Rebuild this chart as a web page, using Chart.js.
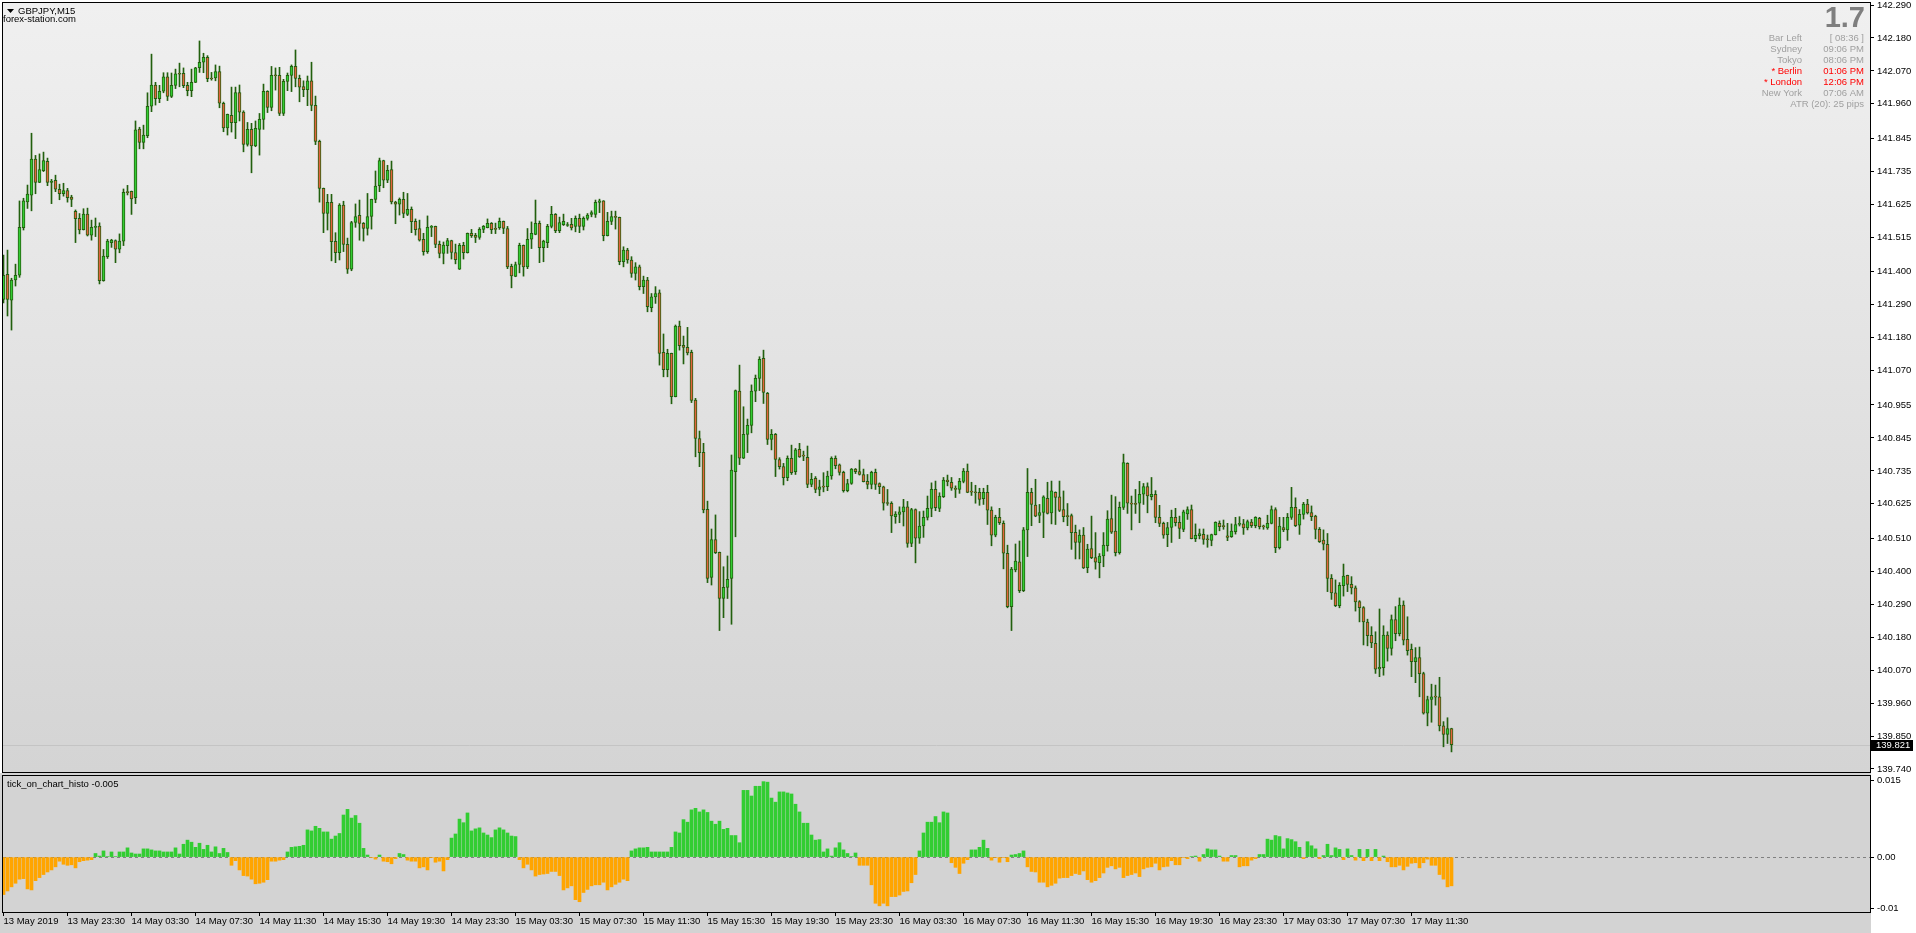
<!DOCTYPE html>
<html>
<head>
<meta charset="utf-8">
<title>GBPJPY,M15</title>
<script src="https://cdn.jsdelivr.net/npm/chart.js@4.4.1/dist/chart.umd.min.js"></script>
<style>
  html, body { margin: 0; padding: 0; background: #fff; overflow: hidden; }
  #wrap { position: relative; width: 1916px; height: 933px; }
  #priceChart { position: absolute; left: 0; top: 0; }
  #histoChart { position: absolute; left: 0; top: 773px; }
</style>
</head>
<body>
<div id="wrap">
  <canvas id="priceChart" width="1916" height="774"></canvas>
  <canvas id="histoChart" width="1916" height="160"></canvas>
</div>
<script>
// M15 bars, 13 May 19:30 .. 17 May 14:00
const opens = [
141.307,141.391,141.305,141.372,141.388,141.547,141.633,141.655,141.776,141.698,
141.737,141.768,141.698,141.705,141.675,141.660,141.671,141.649,141.601,141.578,
141.540,141.592,141.522,141.548,141.552,141.370,141.450,141.497,141.504,141.475,
141.502,141.665,141.668,141.647,141.876,141.831,141.854,141.952,142.023,141.977,
142.002,142.050,141.985,142.022,142.060,142.062,142.022,142.004,142.032,142.081,
142.099,142.115,142.046,142.047,142.068,141.962,141.880,141.922,141.897,141.998,
141.933,141.825,141.875,141.820,141.875,141.908,142.002,141.948,142.055,142.055,
141.928,142.035,142.055,142.085,142.045,142.018,142.007,142.037,141.955,141.835,
141.678,141.594,141.631,141.501,141.463,141.622,141.491,141.408,141.564,141.588,
141.561,141.544,141.584,141.641,141.687,141.771,141.705,141.741,141.632,141.625,
141.641,141.591,141.608,141.568,141.544,141.508,141.467,141.548,141.551,141.491,
141.461,141.487,141.504,141.464,141.408,141.488,141.463,141.528,141.521,141.514,
141.541,141.547,141.561,141.542,141.547,141.568,141.544,141.418,141.384,141.424,
141.488,141.416,141.508,141.524,141.561,141.480,141.497,141.551,141.591,141.537,
141.557,141.554,141.558,141.551,141.578,141.551,141.578,141.591,141.591,141.631,
141.636,141.520,141.568,141.584,141.581,141.433,141.472,141.439,141.394,141.416,
141.350,141.372,141.280,141.316,141.329,141.131,141.073,141.127,140.983,141.218,
141.154,141.147,141.131,140.971,140.843,140.797,140.607,140.379,140.506,140.463,
140.309,140.346,140.376,140.732,141.001,140.777,140.857,140.887,141.001,141.044,
141.111,140.994,140.840,140.857,140.773,140.749,140.712,140.777,140.732,140.807,
140.785,140.780,140.690,140.710,140.673,140.682,140.682,140.718,140.777,140.755,
140.730,140.669,140.693,140.741,140.733,140.723,140.700,140.690,140.730,140.693,
140.682,140.627,140.627,140.582,140.590,140.598,140.615,140.493,140.606,140.510,
140.551,140.580,140.610,140.673,140.610,140.649,140.704,140.697,140.677,140.673,
140.700,140.734,140.665,140.663,140.663,140.642,140.663,140.604,140.520,140.580,
140.560,140.460,140.282,140.404,140.431,140.335,140.538,140.663,140.621,140.586,
140.596,140.643,140.595,140.663,140.648,140.606,140.586,140.586,140.530,140.496,
140.521,140.412,140.476,140.446,140.429,140.451,140.485,140.576,140.534,140.462,
140.613,140.760,140.625,140.627,140.627,140.657,140.683,140.649,140.657,140.580,
140.560,140.522,140.546,140.580,140.563,140.540,140.591,140.606,140.509,140.519,
140.523,140.506,140.503,140.522,140.560,140.550,140.518,140.515,140.532,140.556,
140.558,140.545,140.564,140.552,140.577,140.549,140.545,140.560,140.606,140.479,
140.546,140.538,140.580,140.613,140.554,140.590,140.624,140.596,140.584,140.540,
140.504,140.490,140.376,140.328,140.285,140.352,140.386,140.356,140.345,140.299,
140.279,140.230,140.186,140.159,140.074,140.078,140.187,140.142,140.239,140.192,
140.287,140.173,140.139,140.098,140.112,140.058,139.926,139.972,139.981,139.981,
139.884,139.855,139.875
];
const highs = [
141.455,141.472,141.378,141.425,141.636,141.645,141.689,141.862,141.788,141.793,
141.799,141.779,141.708,141.722,141.692,141.695,141.678,141.655,141.606,141.594,
141.610,141.612,141.572,141.579,141.563,141.474,141.508,141.508,141.506,141.526,
141.676,141.688,141.669,141.903,141.882,141.889,141.997,142.126,142.032,142.022,
142.064,142.064,142.063,142.076,142.096,142.080,142.032,142.076,142.082,142.170,
142.129,142.121,142.065,142.090,142.086,141.966,141.926,142.016,142.016,142.023,
141.937,141.898,141.895,141.903,141.928,142.026,142.004,142.085,142.080,142.082,
142.042,142.063,142.090,142.140,142.056,142.037,142.053,142.099,141.986,141.839,
141.679,141.658,141.658,141.530,141.627,141.635,141.512,141.568,141.626,141.639,
141.564,141.661,141.642,141.736,141.779,141.772,141.755,141.769,141.635,141.646,
141.665,141.661,141.616,141.576,141.572,141.528,141.586,141.554,141.552,141.502,
141.499,141.511,141.505,141.492,141.494,141.498,141.529,141.541,141.528,141.547,
141.554,141.576,141.564,141.562,141.579,141.569,141.551,141.425,141.432,141.495,
141.489,141.544,141.566,141.639,141.569,141.505,141.558,141.618,141.594,141.582,
141.592,141.564,141.578,141.586,141.592,141.583,141.594,141.603,141.639,141.642,
141.637,141.598,141.602,141.602,141.582,141.483,141.478,141.450,141.430,141.422,
141.385,141.381,141.327,141.350,141.339,141.192,141.141,141.128,141.222,141.235,
141.185,141.214,141.138,140.977,140.868,140.827,140.634,140.541,140.588,140.464,
140.415,140.451,140.788,141.005,141.088,140.949,140.908,141.022,141.055,141.116,
141.138,140.997,140.873,140.860,140.779,140.760,140.785,140.821,140.810,140.827,
140.801,140.818,140.727,140.716,140.704,140.729,140.734,140.782,140.785,140.758,
140.734,140.707,140.743,140.743,140.771,140.741,140.723,140.734,140.741,140.695,
140.684,140.673,140.632,140.599,140.615,140.640,140.633,140.610,140.608,140.599,
140.601,140.651,140.695,140.701,140.662,140.713,140.721,140.713,140.685,140.710,
140.743,140.758,140.697,140.687,140.677,140.677,140.687,140.615,140.587,140.610,
140.568,140.487,140.413,140.491,140.501,140.546,140.743,140.677,140.707,140.623,
140.652,140.697,140.701,140.665,140.701,140.668,140.626,140.591,140.554,140.538,
140.546,140.490,140.584,140.529,140.459,140.529,140.602,140.654,140.649,140.631,
140.791,140.762,140.651,140.673,140.700,140.693,140.695,140.713,140.669,140.620,
140.564,140.563,140.604,140.610,140.584,140.604,140.615,140.621,140.558,140.541,
140.541,140.521,140.524,140.565,140.568,140.571,140.560,140.558,140.580,140.582,
140.573,140.571,140.573,140.582,140.580,140.554,140.587,140.618,140.612,140.580,
140.580,140.593,140.680,140.645,140.606,140.630,140.640,140.618,140.587,140.546,
140.538,140.526,140.389,140.371,140.362,140.424,140.387,140.382,140.351,140.302,
140.282,140.240,140.215,140.198,140.274,140.218,140.198,140.254,140.282,140.311,
140.301,140.248,140.157,140.145,140.147,140.063,139.983,140.023,140.020,140.046,
139.898,139.911,139.876
];
const lows = [
141.296,141.252,141.205,141.352,141.381,141.539,141.611,141.603,141.660,141.697,
141.734,141.687,141.627,141.667,141.640,141.652,141.632,141.617,141.497,141.526,
141.539,141.519,141.505,141.517,141.359,141.368,141.444,141.481,141.430,141.463,
141.487,141.656,141.591,141.627,141.810,141.810,141.847,141.934,141.956,141.964,
141.997,141.971,141.981,142.011,142.017,142.014,141.987,141.984,142.031,142.065,
142.064,142.034,142.039,142.037,141.947,141.867,141.856,141.866,141.844,141.903,
141.800,141.819,141.730,141.817,141.789,141.875,141.931,141.937,142.006,141.921,
141.921,142.004,142.001,142.017,141.967,141.984,141.954,141.937,141.824,141.632,
141.530,141.539,141.436,141.430,141.439,141.467,141.394,141.403,141.548,141.505,
141.502,141.522,141.542,141.630,141.667,141.680,141.697,141.626,141.560,141.589,
141.580,141.587,141.530,141.522,141.502,141.455,141.461,141.517,141.480,141.446,
141.426,141.461,141.442,141.426,141.407,141.442,141.462,141.514,141.497,141.508,
141.530,141.546,141.527,141.527,141.541,141.527,141.410,141.346,141.383,141.396,
141.385,141.410,141.477,141.523,141.430,141.433,141.480,141.546,141.530,141.530,
141.554,141.551,141.539,141.533,141.530,141.539,141.572,141.583,141.581,141.597,
141.503,141.519,141.557,141.542,141.423,141.416,141.428,141.381,141.372,141.339,
141.327,141.266,141.266,141.294,141.088,141.049,141.049,140.959,140.982,141.138,
141.092,141.122,140.963,140.782,140.749,140.595,140.362,140.354,140.459,140.202,
140.245,140.309,140.223,140.515,140.756,140.776,140.796,140.862,140.966,141.003,
140.960,140.823,140.805,140.716,140.741,140.688,140.702,140.723,140.723,140.780,
140.769,140.679,140.682,140.662,140.652,140.665,140.669,140.707,140.742,140.721,
140.664,140.665,140.690,140.726,140.721,140.698,140.675,140.675,140.673,140.659,
140.604,140.620,140.529,140.560,140.562,140.551,140.480,140.482,140.428,140.493,
140.513,140.571,140.582,140.602,140.599,140.646,140.685,140.670,140.646,140.660,
140.695,140.662,140.653,140.627,140.620,140.623,140.556,140.485,140.515,140.556,
140.408,140.278,140.202,140.398,140.329,140.332,140.449,140.552,140.582,140.562,
140.512,140.591,140.558,140.556,140.599,140.565,140.552,140.473,140.441,140.441,
140.409,140.395,140.442,140.407,140.378,140.415,140.467,140.526,140.451,140.457,
140.606,140.593,140.538,140.593,140.562,140.623,140.595,140.638,140.562,140.549,
140.510,140.482,140.496,140.551,140.509,140.532,140.573,140.508,140.499,140.508,
140.490,140.480,140.485,140.521,140.535,140.540,140.502,140.513,140.524,140.551,
140.523,140.538,140.546,140.545,140.541,140.540,140.540,140.558,140.462,140.474,
140.532,140.503,140.573,140.549,140.523,140.574,140.591,140.569,140.508,140.496,
140.471,140.332,140.306,140.282,140.278,140.317,140.332,140.324,140.267,140.231,
140.154,140.151,140.145,140.059,140.048,140.053,140.100,140.120,140.168,140.184,
140.154,140.120,140.048,140.028,139.981,139.923,139.884,139.896,139.953,139.867,
139.814,139.825,139.797
];
const closes = [
141.388,141.307,141.372,141.388,141.548,141.636,141.659,141.776,141.698,141.741,
141.771,141.698,141.702,141.675,141.660,141.671,141.647,141.641,141.577,141.539,
141.592,141.522,141.548,141.548,141.370,141.452,141.502,141.505,141.475,141.502,
141.665,141.664,141.643,141.873,141.831,141.856,141.952,142.023,141.977,142.002,
142.050,141.985,142.022,142.060,142.059,142.021,142.004,142.032,142.080,142.099,
142.115,142.044,142.043,142.068,141.962,141.880,141.925,141.897,141.998,141.932,
141.825,141.875,141.820,141.878,141.908,142.002,141.948,142.055,142.054,141.928,
142.035,142.055,142.085,142.045,142.016,142.007,142.037,141.955,141.835,141.678,
141.594,141.631,141.500,141.463,141.622,141.491,141.408,141.564,141.584,141.561,
141.544,141.584,141.641,141.686,141.771,141.705,141.738,141.633,141.625,141.641,
141.594,141.608,141.567,141.540,141.505,141.467,141.548,141.551,141.491,141.461,
141.489,141.504,141.464,141.440,141.488,141.463,141.528,141.520,141.514,141.541,
141.551,141.561,141.540,141.541,141.568,141.544,141.416,141.386,141.424,141.488,
141.416,141.508,141.528,141.561,141.480,141.502,141.551,141.591,141.537,141.564,
141.568,141.555,141.546,141.578,141.551,141.578,141.589,141.597,141.631,141.636,
141.520,141.568,141.584,141.581,141.433,141.472,141.439,141.394,141.416,141.350,
141.372,141.283,141.316,141.327,141.127,141.073,141.127,140.983,141.218,141.153,
141.147,141.129,140.970,140.843,140.796,140.605,140.376,140.506,140.462,140.309,
140.346,140.373,140.738,141.003,140.777,140.857,140.887,141.001,141.044,141.107,
140.997,140.840,140.857,140.773,140.749,140.712,140.777,140.729,140.805,140.782,
140.784,140.690,140.707,140.673,140.682,140.681,140.718,140.777,140.752,140.730,
140.669,140.693,140.741,140.732,140.723,140.699,140.690,140.730,140.690,140.682,
140.627,140.626,140.585,140.591,140.598,140.615,140.493,140.606,140.510,140.551,
140.580,140.610,140.673,140.612,140.651,140.704,140.699,140.677,140.673,140.700,
140.734,140.663,140.664,140.662,140.640,140.663,140.604,140.520,140.580,140.562,
140.460,140.282,140.407,140.434,140.335,140.538,140.663,140.623,140.584,140.596,
140.648,140.593,140.668,140.646,140.603,140.582,140.582,140.529,140.496,140.521,
140.411,140.474,140.445,140.430,140.451,140.487,140.574,140.530,140.462,140.613,
140.763,140.627,140.624,140.623,140.657,140.683,140.651,140.657,140.580,140.560,
140.520,140.546,140.580,140.562,140.543,140.598,140.606,140.509,140.520,140.526,
140.506,140.505,140.522,140.563,140.549,140.549,140.513,140.534,140.556,140.560,
140.545,140.566,140.552,140.580,140.549,140.548,140.560,140.606,140.479,140.551,
140.538,140.580,140.613,140.552,140.590,140.624,140.595,140.582,140.540,140.499,
140.490,140.376,140.328,140.285,140.353,140.384,140.356,140.344,140.298,140.278,
140.231,140.185,140.161,140.073,140.079,140.187,140.142,140.239,140.192,140.287,
140.170,140.135,140.098,140.112,140.058,139.926,139.972,139.981,139.980,139.884,
139.855,139.875,139.821
];

// tick_on_chart_histo, one value per bar
const histo = [
-0.0073,-0.0066,-0.0058,-0.0051,-0.0043,-0.0042,-0.0062,-0.0064,-0.0046,-0.0040,
-0.0034,-0.0029,-0.0025,-0.0019,-0.0008,-0.0014,-0.0016,-0.0015,-0.0021,-0.0009,
-0.0007,-0.0006,-0.0005,0.0007,0.0002,0.0012,0.0001,0.0010,0.0001,0.0010,
0.0010,0.0018,0.0008,0.0006,0.0006,0.0016,0.0016,0.0014,0.0012,0.0012,
0.0010,0.0010,0.0010,0.0018,0.0006,0.0025,0.0033,0.0029,0.0019,0.0027,
0.0015,0.0023,0.0010,0.0020,0.0007,0.0017,0.0009,-0.0016,-0.0007,-0.0025,
-0.0036,-0.0037,-0.0043,-0.0052,-0.0051,-0.0049,-0.0044,-0.0008,-0.0008,-0.0006,
-0.0005,0.0010,0.0019,0.0020,0.0021,0.0023,0.0053,0.0051,0.0060,0.0056,
0.0049,0.0049,0.0035,0.0041,0.0046,0.0082,0.0093,0.0076,0.0081,0.0066,
0.0017,0.0004,-0.0001,-0.0004,0.0004,-0.0008,-0.0009,-0.0013,-0.0003,0.0007,
0.0005,-0.0006,-0.0008,-0.0008,-0.0021,-0.0019,-0.0025,-0.0001,-0.0010,-0.0008,
-0.0027,-0.0005,0.0037,0.0045,0.0074,0.0067,0.0086,0.0051,0.0055,0.0057,
0.0047,0.0043,0.0038,0.0053,0.0057,0.0053,0.0047,0.0041,0.0040,-0.0005,
-0.0021,-0.0014,-0.0025,-0.0037,-0.0034,-0.0033,-0.0032,-0.0028,-0.0028,-0.0036,
-0.0064,-0.0060,-0.0056,-0.0083,-0.0087,-0.0069,-0.0063,-0.0056,-0.0054,-0.0054,
-0.0049,-0.0064,-0.0058,-0.0053,-0.0049,-0.0043,-0.0046,0.0012,0.0016,0.0018,
0.0018,0.0019,0.0010,0.0010,0.0010,0.0010,0.0010,0.0019,0.0049,0.0047,
0.0073,0.0068,0.0092,0.0095,0.0088,
0.0092,0.0087,0.0070,0.0064,0.0070,0.0054,0.0056,0.0042,0.0042,0.0028,
0.0130,0.0130,0.0119,0.0138,0.0138,0.0147,0.0146,0.0115,0.0107,0.0127,
0.0127,0.0125,0.0123,0.0103,0.0088,0.0066,0.0066,0.0043,0.0033,0.0034,
0.0010,0.0016,0.0002,0.0018,0.0028,0.0014,0.0007,0.0001,0.0008,-0.0016,
-0.0016,-0.0016,-0.0054,-0.0090,-0.0095,-0.0090,-0.0095,-0.0077,-0.0077,-0.0074,
-0.0067,-0.0066,-0.0050,-0.0034,0.0012,0.0047,0.0068,0.0068,0.0079,0.0067,
0.0088,0.0086,-0.0011,-0.0020,-0.0032,-0.0012,-0.0005,0.0014,0.0014,0.0019,
0.0033,0.0017,-0.0006,-0.0001,-0.0010,-0.0001,-0.0009,0.0004,0.0005,0.0007,
0.0012,-0.0019,-0.0028,-0.0029,-0.0049,-0.0049,-0.0058,-0.0055,-0.0051,
-0.0041,-0.0040,-0.0040,-0.0036,-0.0032,-0.0034,-0.0027,-0.0044,-0.0049,-0.0046,
-0.0040,-0.0031,-0.0020,-0.0017,-0.0023,-0.0020,-0.0040,-0.0036,-0.0034,-0.0031,
-0.0038,-0.0023,-0.0020,-0.0019,-0.0012,-0.0025,-0.0019,-0.0018,-0.0007,-0.0015,-0.0015,-0.0001,-0.0003,
0.0001,0.0002,-0.0008,0.0005,0.0016,0.0014,0.0014,0.0002,-0.0008,-0.0008,
0.0003,0.0003,-0.0019,-0.0017,-0.0017,-0.0006,-0.0003,0.0005,0.0005,0.0035,
0.0033,0.0042,0.0040,0.0016,0.0036,0.0034,0.0030,0.0019,-0.0003,0.0030,
0.0022,0.0016,-0.0003,0.0003,0.0025,0.0003,0.0018,0.0015,-0.0005,0.0016,0.0003,
-0.0006,0.0015,-0.0007,0.0015,-0.0007,0.0015,-0.0007,0.0002,-0.0009,-0.0019,
-0.0019,-0.0016,-0.0025,-0.0018,-0.0012,-0.0011,-0.0021,-0.0011,-0.0004,-0.0016,
-0.0016,-0.0034,-0.0043,-0.0058,-0.0056
];

// time axis: one label every 16 bars (4 hours)
const barsPerLabel = 16;
const timeLabels = [
  '13 May 2019', '13 May 23:30', '14 May 03:30', '14 May 07:30', '14 May 11:30', '14 May 15:30',
  '14 May 19:30', '14 May 23:30', '15 May 03:30', '15 May 07:30', '15 May 11:30', '15 May 15:30',
  '15 May 19:30', '15 May 23:30', '16 May 03:30', '16 May 07:30', '16 May 11:30', '16 May 15:30',
  '16 May 19:30', '16 May 23:30', '17 May 03:30', '17 May 07:30', '17 May 11:30'
];
const priceTicks = [
  142.290, 142.180, 142.070, 141.960, 141.845, 141.735, 141.625, 141.515, 141.400, 141.290,
  141.180, 141.070, 140.955, 140.845, 140.735, 140.625, 140.510, 140.400, 140.290, 140.180,
  140.070, 139.960, 139.850, 139.740
];
const histoTicks = [0.015, 0, -0.01];
const histoTickLabels = ['0.015', '0.00', '-0.01'];

// info block, top right
const infoLabels = ['Bar Left', 'Sydney', 'Tokyo', '* Berlin', '* London', 'New York'];
const infoValues = ['[ 08:36 ]', '09:06 PM', '08:06 PM', '01:06 PM', '12:06 PM', '07:06 AM'];
const infoRed = [false, false, false, true, true, false];
const atrText = 'ATR (20): 25 pips';
const spreadText = '1.7';

const FONT = "'Liberation Sans', Arial, sans-serif";
const SMALL = 9.5;
const colors = {
  wick: '#22600e',
  bull: '#33cc33',
  bear: '#e2643e',
  up: '#32cd32',
  down: '#ffa500',
  info: '#a0a0a0',
  red: '#ff0000'
};

// shared horizontal mapping: 4 px per bar, bar 0 centred one pixel inside the frame
const xMin = -0.125;
const xMax = 466.625;

function drawText(ctx, text, x, y, color, align, font) {
  ctx.font = font || `${SMALL}px ${FONT}`;
  ctx.fillStyle = color;
  ctx.textAlign = align || 'left';
  ctx.textBaseline = 'middle';
  ctx.fillText(text, x, y);
}

// stop Chart.js from insetting the plot area for overhanging tick labels
function noScalePadding(s) {
  s.paddingTop = 0;
  s.paddingBottom = 0;
  s.paddingLeft = 0;
  s.paddingRight = 0;
}

/**
 * Panel background and black frame
 */
const panelPlugin = {
  id: 'panel',
  beforeDraw(chart, args, opts) {
    const { ctx, chartArea: a } = chart;
    ctx.save();
    ctx.fillStyle = '#ffffff';
    ctx.fillRect(0, 0, chart.width, chart.height);
    if (opts.outer) {
      ctx.fillStyle = opts.outer;
      ctx.fillRect(0, 0, a.right + 1, chart.height);
    }
    if (opts.gradient) {
      const g = ctx.createLinearGradient(0, a.top, 0, a.bottom);
      g.addColorStop(0, opts.gradient[0]);
      g.addColorStop(1, opts.gradient[1]);
      ctx.fillStyle = g;
    } else {
      ctx.fillStyle = opts.fill;
    }
    ctx.fillRect(a.left, a.top, a.right - a.left, a.bottom - a.top);
    ctx.restore();
  },
  afterDraw(chart) {
    const { ctx, chartArea: a } = chart;
    ctx.save();
    ctx.strokeStyle = '#000';
    ctx.lineWidth = 1;
    ctx.strokeRect(a.left - 0.5, a.top - 0.5, a.right - a.left + 1, a.bottom - a.top + 1);
    ctx.restore();
  }
};

/**
 * Bid line, price tag and the text overlays of the main window
 */
const priceOverlay = {
  id: 'priceOverlay',
  beforeDatasetsDraw(chart) {
    const { ctx, chartArea: a, scales: { y } } = chart;
    const py = Math.round(y.getPixelForValue(closes[closes.length - 1])) + 0.5;
    ctx.save();
    ctx.strokeStyle = '#c4c4c4';
    ctx.lineWidth = 1;
    ctx.beginPath();
    ctx.moveTo(a.left, py);
    ctx.lineTo(a.right, py);
    ctx.stroke();
    ctx.restore();
  },
  afterDraw(chart) {
    const { ctx, chartArea: a, scales: { y } } = chart;
    const last = closes[closes.length - 1];
    const py = Math.round(y.getPixelForValue(last));
    ctx.save();
    // current price tag
    ctx.fillStyle = '#000';
    ctx.fillRect(a.right + 1, py - 5, 42, 11);
    drawText(ctx, last.toFixed(3), a.right + 6, py + 0.5, '#fff');

    // symbol caption
    ctx.fillStyle = '#000';
    ctx.beginPath();
    ctx.moveTo(7, 9);
    ctx.lineTo(14, 9);
    ctx.lineTo(10.5, 13);
    ctx.closePath();
    ctx.fill();
    drawText(ctx, 'GBPJPY,M15', 18, 11, '#000');
    drawText(ctx, 'forex-station.com', 3, 19.5, '#000');

    // spread + session clock
    const rx = 1864;
    const lx = 1802;
    drawText(ctx, spreadText, rx + 1, 19, '#7f7f7f', 'right', `bold 29px ${FONT}`);
    infoLabels.forEach((label, k) => {
      const c = infoRed[k] ? colors.red : colors.info;
      const ty = 38.5 + k * 11;
      drawText(ctx, label, lx, ty, c, 'right');
      drawText(ctx, infoValues[k], rx, ty, c, 'right');
    });
    drawText(ctx, atrText, rx, 38.5 + 6 * 11, colors.info, 'right');
    ctx.restore();
  }
};

/**
 * Dashed zero level and indicator caption of the sub window
 */
const histoOverlay = {
  id: 'histoOverlay',
  beforeDatasetsDraw(chart) {
    const { ctx, chartArea: a, scales: { y } } = chart;
    const py = Math.round(y.getPixelForValue(0)) + 0.5;
    ctx.save();
    ctx.strokeStyle = '#808080';
    ctx.lineWidth = 1;
    ctx.setLineDash([3, 3]);
    ctx.beginPath();
    ctx.moveTo(a.left, py);
    ctx.lineTo(a.right, py);
    ctx.stroke();
    ctx.restore();
  },
  afterDraw(chart) {
    const { ctx, chartArea: a } = chart;
    ctx.save();
    drawText(ctx, 'tick_on_chart_histo -0.005', a.left + 4, a.top + 8, '#000');
    ctx.restore();
  }
};

const tickFont = { family: FONT, size: SMALL };
const rightAxisGrid = { drawOnChartArea: false, drawTicks: true, tickLength: 4, color: '#000', lineWidth: 1 };

const bodies = closes.map((c, i) => ({ x: i, y: [opens[i], c] }));
const wicks = closes.map((c, i) => ({ x: i, y: [lows[i], highs[i]] }));

new Chart(document.getElementById('priceChart'), {
  type: 'bar',
  data: {
    datasets: [
      {
        data: bodies,
        barThickness: 3,
        borderWidth: 1,
        borderSkipped: false,
        minBarLength: 1,
        borderColor: colors.wick,
        backgroundColor: closes.map((c, i) => (c >= opens[i] ? colors.bull : colors.bear)),
        grouped: false
      },
      {
        data: wicks,
        barThickness: 1,
        borderWidth: 0,
        backgroundColor: colors.wick,
        grouped: false
      }
    ]
  },
  options: {
    responsive: false,
    animation: false,
    events: [],
    layout: { padding: { left: 3, top: 3, right: 0, bottom: 2 } },
    plugins: {
      legend: { display: false },
      tooltip: { enabled: false },
      panel: { gradient: ['#f0f0f0', '#d4d4d4'] }
    },
    scales: {
      x: {
        type: 'linear',
        display: false,
        offset: false,
        bounds: 'data',
        min: xMin,
        max: xMax,
        grid: { offset: false }
      },
      y: {
        position: 'right',
        bounds: 'data',
        min: 139.7299,
        max: 142.2967,
        afterBuildTicks: (s) => { s.ticks = priceTicks.map((v) => ({ value: v })); },
        afterFit: (s) => { s.width = 46; noScalePadding(s); },
        grid: rightAxisGrid,
        border: { display: false },
        ticks: {
          autoSkip: false,
          padding: 3,
          color: '#000',
          font: tickFont,
          callback: (v) => Number(v).toFixed(3)
        }
      }
    }
  },
  plugins: [panelPlugin, priceOverlay]
});

new Chart(document.getElementById('histoChart'), {
  type: 'bar',
  data: {
    datasets: [{
      data: histo.map((v, i) => ({ x: i, y: v })),
      barThickness: 3,
      borderWidth: 0,
      backgroundColor: histo.map((v) => (v >= 0 ? colors.up : colors.down))
    }]
  },
  options: {
    responsive: false,
    animation: false,
    events: [],
    layout: { padding: { left: 3, top: 3, right: 0, bottom: 0 } },
    plugins: {
      legend: { display: false },
      tooltip: { enabled: false },
      panel: { fill: '#d3d3d3', outer: '#d3d3d3' }
    },
    scales: {
      x: {
        type: 'linear',
        offset: false,
        min: xMin,
        max: xMax,
        bounds: 'data',
        afterBuildTicks: (s) => { s.ticks = timeLabels.map((_, k) => ({ value: k * barsPerLabel })); },
        afterFit: (s) => { s.height = 21; noScalePadding(s); },
        grid: { offset: false, drawOnChartArea: false, drawTicks: true, tickLength: 4, color: '#000' },
        border: { display: false },
        ticks: {
          autoSkip: false,
          maxRotation: 0,
          align: 'start',
          padding: 0,
          color: '#000',
          font: tickFont,
          callback: (v) => timeLabels[Math.round(v / barsPerLabel)]
        }
      },
      y: {
        position: 'right',
        bounds: 'data',
        min: -0.0107,
        max: 0.0158,
        afterBuildTicks: (s) => { s.ticks = histoTicks.map((v) => ({ value: v })); },
        afterFit: (s) => { s.width = 46; noScalePadding(s); },
        grid: rightAxisGrid,
        border: { display: false },
        ticks: {
          autoSkip: false,
          padding: 3,
          color: '#000',
          font: tickFont,
          callback: (v, k) => histoTickLabels[k]
        }
      }
    }
  },
  plugins: [panelPlugin, histoOverlay]
});
</script>
</body>
</html>
